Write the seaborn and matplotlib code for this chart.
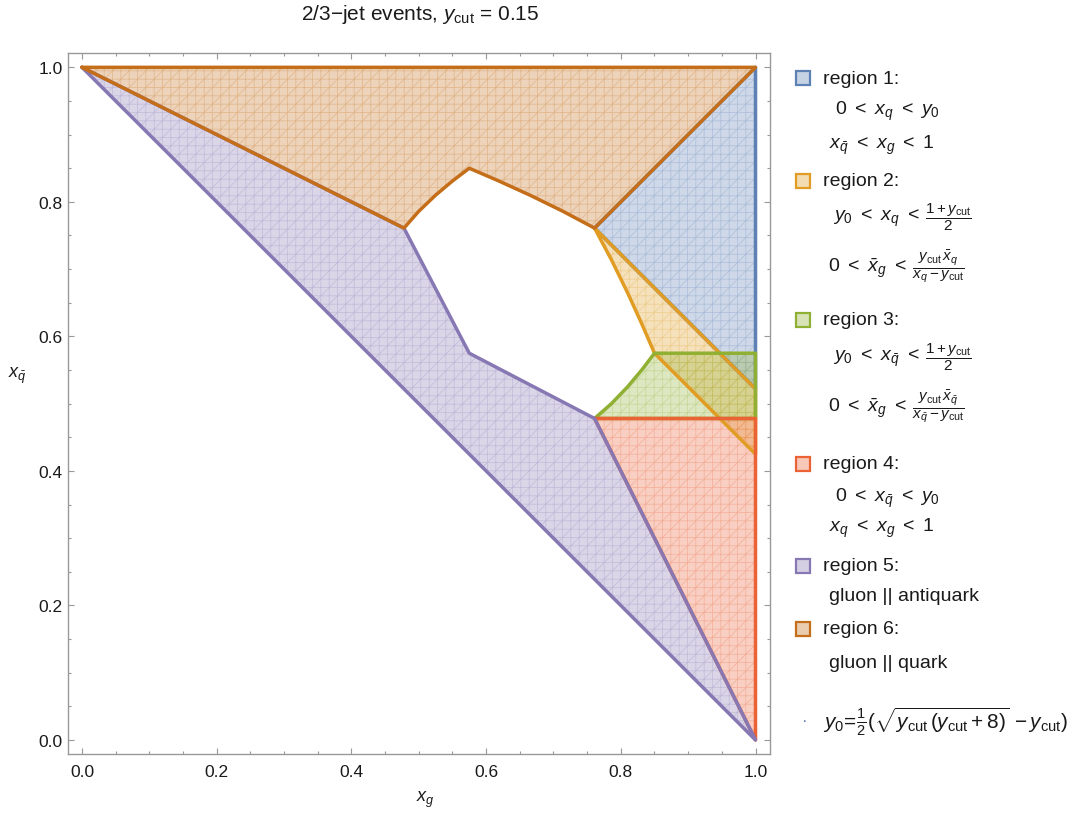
import numpy as np
import pandas as pd
import matplotlib.pyplot as plt
import seaborn as sns
from matplotlib.patches import Rectangle
from matplotlib.colors import to_rgba
from matplotlib.ticker import MultipleLocator

# region vertices (x_g, x_qbar), y_cut = 0.15
region1_xg = [0.761, 1.0, 1.0]
region1_xqb = [0.761, 1.0, 0.522]
region2_xg = [0.761, 1.0, 1.0, 0.85, 0.831, 0.81, 0.786]
region2_xqb = [0.761, 0.522, 0.425, 0.575, 0.619, 0.665, 0.714]
region3_xg = [0.761, 1.0, 1.0, 0.85, 0.831, 0.81, 0.786]
region3_xqb = [0.478, 0.478, 0.575, 0.575, 0.55, 0.525, 0.5]
region4_xg = [0.761, 1.0, 1.0]
region4_xqb = [0.478, 0.478, 0.0]
region5_xg = [0.0, 0.478, 0.575, 0.761, 1.0]
region5_xqb = [1.0, 0.761, 0.575, 0.478, 0.0]
region6_xg = [0.0, 1.0, 0.761, 0.714, 0.665, 0.619, 0.575, 0.55, 0.525, 0.5, 0.478]
region6_xqb = [1.0, 1.0, 0.761, 0.786, 0.81, 0.831, 0.85, 0.831, 0.81, 0.786, 0.761]

region_colors = ["#5E81B5", "#E19C24", "#8FB032", "#EB6235", "#8778B3", "#C56E1A"]
region_names = ["region 1:", "region 2:", "region 3:", "region 4:", "region 5:", "region 6:"]
LT = r"\ <\ "
frac_q = r"$\dfrac{1+y_{\rm cut}}{2}$"
region_notes = [
    [(r"$0" + LT + r"x_q" + LT + r"y_0$", None), (r"$x_{\bar{q}}" + LT + r"x_g" + LT + r"1$", None)],
    [(r"$y_0" + LT + r"x_q" + LT + r"$", frac_q),
     (r"$0" + LT + r"\bar{x}_g" + LT + r"$",
      r"$\dfrac{y_{\rm cut}\,\bar{x}_q}{x_q - y_{\rm cut}}$")],
    [(r"$y_0" + LT + r"x_{\bar{q}}" + LT + r"$", frac_q),
     (r"$0" + LT + r"\bar{x}_g" + LT + r"$",
      r"$\dfrac{y_{\rm cut}\,\bar{x}_{\bar{q}}}{x_{\bar{q}} - y_{\rm cut}}$")],
    [(r"$0" + LT + r"x_{\bar{q}}" + LT + r"y_0$", None), (r"$x_q" + LT + r"x_g" + LT + r"1$", None)],
    [("gluon || antiquark", None)],
    [("gluon || quark", None)],
]

sns.set_theme(style="ticks")
plt.rcParams['font.family'] = ['Liberation Sans', 'DejaVu Sans']
plt.rcParams['mathtext.fontset'] = 'custom'
plt.rcParams['mathtext.rm'] = 'Liberation Sans'
plt.rcParams['mathtext.it'] = 'Liberation Sans:italic'
plt.rcParams['mathtext.bf'] = 'Liberation Sans:bold'
plt.rcParams['hatch.linewidth'] = 0.5

W, H = 1077, 820
fig = plt.figure(figsize=(W / 100, H / 100), dpi=100)
ax = fig.add_axes([68 / W, 1 - 755 / H, (770 - 68) / W, (755 - 54) / H])

regions = [(region1_xg, region1_xqb), (region2_xg, region2_xqb), (region3_xg, region3_xqb),
           (region4_xg, region4_xqb), (region5_xg, region5_xqb), (region6_xg, region6_xqb)]

# fills + mesh-like hatch
for (xs, ys), c in zip(regions, region_colors):
    ax.fill(xs, ys, color=c, alpha=0.3, lw=0, zorder=1)
    ax.fill(xs, ys, facecolor='none', edgecolor=to_rgba(c, 0.3), hatch='++//', lw=0, zorder=1.5)

# boundaries
for (xs, ys), c in zip(regions, region_colors):
    df = pd.DataFrame({"xg": xs + [xs[0]], "xqb": ys + [ys[0]]})
    sns.lineplot(data=df, x="xg", y="xqb", sort=False, estimator=None, color=c,
                 lw=2.5, ax=ax, solid_joinstyle='round', solid_capstyle='round', zorder=3)

ax.set_xlim(-0.0208, 1.0215)
ax.set_ylim(-0.0208, 1.0213)
ax.set_xlabel("")
ax.set_ylabel("")
ax.xaxis.set_major_locator(MultipleLocator(0.2))
ax.yaxis.set_major_locator(MultipleLocator(0.2))
ax.xaxis.set_minor_locator(MultipleLocator(0.05))
ax.yaxis.set_minor_locator(MultipleLocator(0.05))
ax.xaxis.set_major_formatter(lambda v, p: f"{v:.1f}")
ax.yaxis.set_major_formatter(lambda v, p: f"{v:.1f}")
ax.tick_params(which='both', direction='in', top=True, right=True, color='#999999',
               labelcolor='#1a1a1a', width=0.8, labelsize=12.5)
ax.tick_params(which='major', length=4)
ax.tick_params(which='minor', length=2.5)
ax.tick_params(axis='x', pad=7)
ax.tick_params(axis='y', pad=4)
for s in ax.spines.values():
    s.set_color('#999999')
    s.set_linewidth(1.0)

txt = '#1a1a1a'
fig.text(420 / W, 1 - 14 / H, r"2/3−jet events, $y_{\rm cut}$ = 0.15", ha='center', va='center',
         fontsize=15, color=txt)
fig.text(425 / W, 1 - 800 / H, r"$x_g$", ha='center', va='center', fontsize=13, color=txt)
fig.text(17 / W, 1 - 376 / H, r"$x_{\bar{q}}$", ha='center', va='center', fontsize=13, color=txt)

renderer = fig.canvas.get_renderer()

# legend
name_y = [79, 182, 321, 465, 567, 630]
note_y = [[111, 145], [218, 268], [358, 408], [498, 528], [597], [663]]
note_x = [[835, 829], [833, 828], [833, 828], [835, 829], [829], [829]]
for c, name, ny, notes, nys, nxs in zip(region_colors, region_names, name_y, region_notes, note_y, note_x):
    fig.patches.append(Rectangle((796 / W, 1 - (ny + 7) / H), 14 / W, 14 / H, transform=fig.transFigure,
                                 facecolor=to_rgba(c, 0.35), edgecolor=c, lw=1.6))
    fig.text(823 / W, 1 - ny / H, name, ha='left', va='center', fontsize=14, color=txt)
    for (s, frac), yy, xx in zip(notes, nys, nxs):
        t = fig.text(xx / W, 1 - yy / H, s, ha='left', va='center', fontsize=14, color=txt)
        if frac is not None:
            bb = t.get_window_extent(renderer)
            fig.text((bb.x1 + 5) / W, 1 - (yy - 1) / H, frac, ha='left', va='center',
                     fontsize=11, color=txt)

fig.text(805 / W, 1 - 722 / H, "·", ha='center', va='center', fontsize=12, color='#5E81B5')
fig.text(823 / W, 1 - 722 / H,
         r"$y_0\!=\!\frac{1}{2}(\sqrt{y_{\rm cut}\,(y_{\rm cut}+8)}\,-y_{\rm cut})$",
         ha='left', va='center', fontsize=15, color=txt)

fig.savefig("out.png", dpi=100)
